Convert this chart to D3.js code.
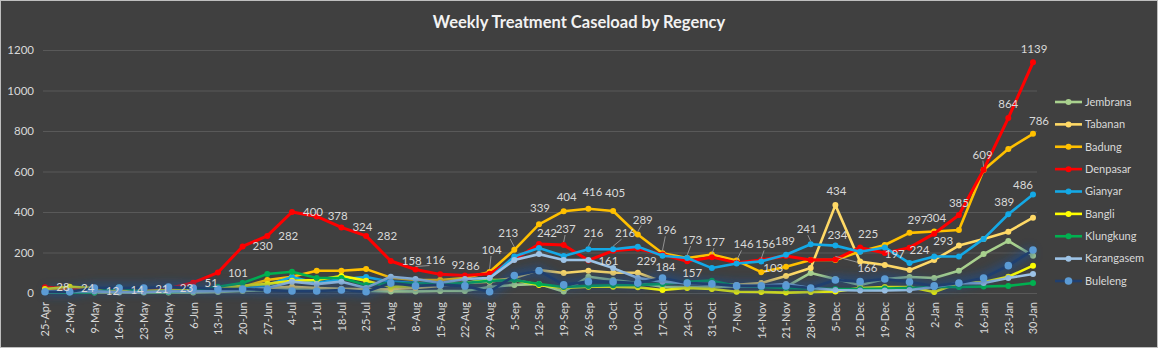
<!DOCTYPE html>
<html lang="en">
<head>
<meta charset="UTF-8">
<script src="https://cdn.jsdelivr.net/npm/d3@7"></script>
<title>Weekly Treatment Caseload by Regency</title>
<style>
    body { margin: 0; background: #404040; }
    svg { display: block; font-family: Lato, "Open Sans", sans-serif; }
</style>
</head>
<body>
<script>
// week labels (x axis)
const weeks = ["25-Apr","2-May","9-May","16-May","23-May","30-May","6-Jun","13-Jun","20-Jun","27-Jun",
    "4-Jul","11-Jul","18-Jul","25-Jul","1-Aug","8-Aug","15-Aug","22-Aug","29-Aug","5-Sep",
    "12-Sep","19-Sep","26-Sep","3-Oct","10-Oct","17-Oct","24-Oct","31-Oct","7-Nov","14-Nov",
    "21-Nov","28-Nov","5-Dec","12-Dec","19-Dec","26-Dec","2-Jan","9-Jan","16-Jan","23-Jan","30-Jan"];

// weekly caseload per regency
const jembrana   = [5,3,3,3,3,3,3,5,10,15,20,15,15,10,8,8,10,10,30,40,45,7,80,64,49,31,30,30,32,35,30,99,69,40,69,79,74,110,192,257,184];
const tabanan    = [10,20,15,10,8,10,10,15,20,25,31,25,21,18,20,25,35,50,56,74,113,99,110,100,100,56,49,45,40,49,84,123,434,155,138,113,163,234,267,303,372];
const badung     = [15,25,20,15,10,12,15,25,31,64,80,110,110,118,76,64,64,74,104,213,339,404,416,405,289,196,173,190,160,103,130,163,163,205,237,297,304,311,607,711,786];
const denpasar   = [28,24,12,14,21,23,51,101,230,282,400,378,324,282,158,116,92,86,95,165,242,237,161,209,218,190,157,177,150,163,183,163,166,225,197,224,293,385,609,864,1139];
const gianyar    = [5,5,8,8,10,10,12,15,20,40,79,49,69,79,56,49,40,45,74,180,222,183,216,216,229,184,173,123,146,156,189,241,234,204,225,148,180,180,267,389,486];
const bangli     = [20,31,25,10,10,15,12,25,35,45,60,64,84,61,30,35,44,50,64,64,40,25,31,31,28,15,25,20,6,5,2,5,8,25,30,30,5,49,54,80,135];
const klungkung  = [5,3,3,28,5,5,8,31,49,94,105,74,74,40,49,47,44,49,60,64,44,30,35,38,40,45,55,61,35,30,25,22,20,20,22,25,30,30,32,35,49];
const karangasem = [8,8,8,5,5,8,8,10,15,25,56,44,56,25,80,69,49,69,74,163,192,163,163,123,74,56,49,42,35,35,44,25,15,12,12,15,30,49,49,74,94];
const buleleng   = [6,6,25,25,25,30,25,20,20,15,10,10,15,6,49,35,40,35,6,86,110,40,56,55,49,74,49,45,35,35,35,25,64,56,69,54,35,49,74,135,212];

const yTicks = [0, 200, 400, 600, 800, 1000, 1200];

const series = [
    {name: "Jembrana",   values: jembrana,   color: "#a9d18e"},
    {name: "Tabanan",    values: tabanan,    color: "#ffd966"},
    {name: "Badung",     values: badung,     color: "#ffc000"},
    {name: "Denpasar",   values: denpasar,   color: "#ff0000"},
    {name: "Gianyar",    values: gianyar,    color: "#14a9e6"},
    {name: "Bangli",     values: bangli,     color: "#ffff00"},
    {name: "Klungkung",  values: klungkung,  color: "#00b050"},
    {name: "Karangasem", values: karangasem, color: "#9dc3e6"},
    {name: "Buleleng",   values: buleleng,   color: "#203f6e", marker: "#5b9bd5"}
];

// where the value labels sit: [series, week index, dx, dy, leader line?]
const labelSpots = [
    ["Denpasar",0,18,0],["Denpasar",1,18,0],["Denpasar",2,18,0],["Denpasar",3,18,0],
    ["Denpasar",4,18,0],["Denpasar",5,18,0],["Denpasar",6,18,0],["Denpasar",7,20,0],
    ["Denpasar",8,20,0],["Denpasar",9,21,0],["Denpasar",10,21,0],["Denpasar",11,21,0],
    ["Denpasar",12,21,0],["Denpasar",13,21,0],["Denpasar",14,21,0],["Denpasar",15,20,-10,1],
    ["Denpasar",16,18,-9],["Denpasar",17,8,-10],
    ["Badung",18,2,-22,1],["Badung",19,-6,-17,1],["Badung",20,1,-16],["Denpasar",20,8,-11],
    ["Badung",21,3,-14],["Denpasar",21,2,-16,1],["Badung",22,4,-17],["Gianyar",22,5,-16,1],
    ["Denpasar",22,20,1],["Badung",23,2,-18],["Gianyar",23,12,-16,1],["Badung",24,5,-15,1],
    ["Gianyar",24,9,14],["Badung",25,4,-23,1],["Gianyar",25,3,11],["Badung",26,5,-18,1],
    ["Denpasar",26,5,12],["Denpasar",27,3,-15,1],["Gianyar",28,7,-19,1],["Gianyar",29,4,-17,1],
    ["Badung",29,12,-4],["Gianyar",30,-1,-14],["Gianyar",31,-4,-15,1],["Tabanan",32,1,-14],
    ["Gianyar",32,2,-11],["Denpasar",32,32,9,1],["Denpasar",33,8,-13],["Denpasar",34,10,1],
    ["Badung",35,8,-13],["Denpasar",35,10,2],["Badung",36,2,-13],["Denpasar",36,9,7],
    ["Denpasar",37,0,-12],["Denpasar",38,-1,-15,1],["Denpasar",39,0,-14],["Denpasar",40,1,-13],
    ["Badung",40,6,-13],["Gianyar",39,-4,-12],["Gianyar",40,-10,-10]
];

const W = 1158, H = 348;
const svg = d3.select("body").append("svg").attr("width", W).attr("height", H);

svg.append("rect").attr("x", 0.5).attr("y", 0.5).attr("width", W - 1).attr("height", H - 1)
    .attr("fill", "#404040").attr("stroke", "#bfbfbf");

const x = d3.scalePoint().domain(weeks).range([45, 1033]);
const y = d3.scaleLinear().domain([0, 1200]).range([293, 50]);

// title
svg.append("text").attr("x", 579).attr("y", 28).attr("text-anchor", "middle")
    .attr("fill", "#f2f2f2").attr("font-size", 16.5).attr("font-weight", "bold")
    .text("Weekly Treatment Caseload by Regency");

// gridlines + y labels
const yAxis = svg.append("g").attr("transform", "translate(43,0)")
    .call(d3.axisLeft(y).tickValues(yTicks).tickSize(-994).tickPadding(9).tickFormat(d3.format("d")));
yAxis.select(".domain").remove();
yAxis.selectAll("line").attr("stroke", "#595959");
yAxis.selectAll("text").attr("fill", "#d9d9d9").attr("font-size", 11.5).attr("font-family", "Lato");

// x labels
const xAxis = svg.append("g").attr("transform", "translate(0,293)")
    .call(d3.axisBottom(x).tickSize(0).tickPadding(0));
xAxis.select(".domain").remove();
xAxis.selectAll("text")
    .attr("fill", "#d9d9d9").attr("font-size", 11).attr("font-family", "Lato")
    .attr("text-anchor", "end").attr("dy", "0.35em")
    .attr("transform", "translate(0,9) rotate(-90)")
    .attr("x", 0).attr("y", 0);

const line = d3.line().x((d, i) => x(weeks[i])).y(d => y(d));

// soft glow under Buleleng like the original
const defs = svg.append("defs");
defs.append("filter").attr("id", "glow").attr("x", "-5%").attr("y", "-50%").attr("width", "110%").attr("height", "200%")
    .append("feGaussianBlur").attr("stdDeviation", 4);

const plot = svg.append("g");
series.forEach(s => {
    if (s.name === "Buleleng") {
        plot.append("path").attr("d", line(s.values)).attr("fill", "none")
            .attr("stroke", "#1f4e8c").attr("stroke-width", 10).attr("opacity", 0.65)
            .attr("filter", "url(#glow)");
    }
    plot.append("path").attr("d", line(s.values)).attr("fill", "none")
        .attr("stroke", s.color).attr("stroke-width", s.name === "Denpasar" ? 3 : 2.6)
        .attr("stroke-linejoin", "round");
    plot.selectAll(null).data(s.values).enter().append("circle")
        .attr("cx", (d, i) => x(weeks[i])).attr("cy", d => y(d))
        .attr("r", s.name === "Buleleng" ? 3.8 : 3)
        .attr("fill", s.marker || s.color);
});

// value labels
const byName = Object.fromEntries(series.map(s => [s.name, s]));
const labels = svg.append("g").attr("font-size", 11.5).attr("fill", "#d9d9d9").attr("font-family", "Lato");
labelSpots.forEach(([name, i, dx, dy, leader]) => {
    const v = byName[name].values[i];
    const px = x(weeks[i]), py = y(v);
    if (leader) {
        labels.append("line")
            .attr("x1", px).attr("y1", py - 3)
            .attr("x2", px + dx * 0.7).attr("y2", py + dy + (dy < 0 ? 6 : -6))
            .attr("stroke", "#a6a6a6").attr("stroke-width", 0.8);
    }
    labels.append("text").attr("x", px + dx).attr("y", py + dy)
        .attr("text-anchor", "middle").attr("dy", "0.35em").text(v);
});

// legend
const ly = d3.scalePoint().domain(series.map(s => s.name)).range([102, 281]);
const legend = svg.append("g");
series.forEach(s => {
    const g = legend.append("g").attr("transform", `translate(1055,${ly(s.name)})`);
    if (s.name === "Buleleng") {
        g.append("line").attr("x1", 0).attr("x2", 27).attr("stroke", "#1f4e8c").attr("stroke-width", 8)
            .attr("opacity", 0.6).attr("filter", "url(#glow)");
    }
    g.append("line").attr("x1", 0).attr("x2", 27).attr("stroke", s.color).attr("stroke-width", 2.6);
    g.append("circle").attr("cx", 13.5).attr("r", s.name === "Buleleng" ? 3.8 : 3).attr("fill", s.marker || s.color);
    g.append("text").attr("x", 30).attr("dy", "0.35em").attr("fill", "#d9d9d9")
        .attr("font-size", 11).attr("font-family", "Lato").text(s.name);
});
</script>
</body>
</html>
